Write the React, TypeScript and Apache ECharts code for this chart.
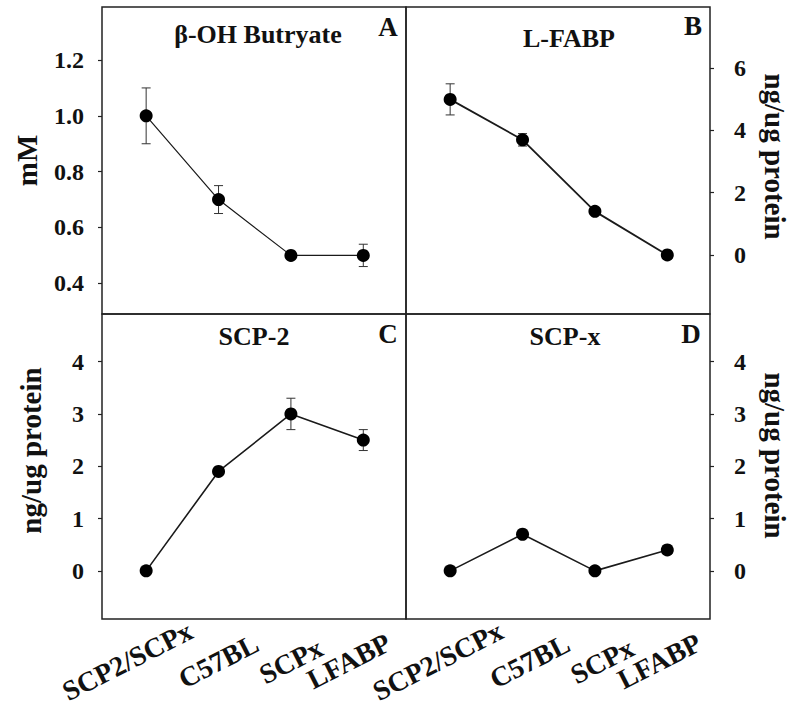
import React, { useEffect, useRef } from "react";
import * as echarts from "echarts";

// ---- data ----
const categories = ["SCP2/SCPx", "C57BL", "SCPx", "LFABP"];

const butyrate = [1.0, 0.7, 0.5, 0.5];
const butyrateErr = [0.1, 0.05, 0, 0.04];

const lfabp = [5.0, 3.7, 1.4, 0.0];
const lfabpErr = [0.5, 0.2, 0, 0];

const scp2 = [0, 1.9, 3.0, 2.5];
const scp2Err = [0, 0, 0.3, 0.2];

const scpx = [0, 0.7, 0, 0.4];
const scpxErr = [0, 0, 0, 0];

const ticksA = [0.4, 0.6, 0.8, 1.0, 1.2];
const ticksB = [0, 2, 4, 6];
const ticksCD = [0, 1, 2, 3, 4];

const titles = ["β-OH Butryate", "L-FABP", "SCP-2", "SCP-x"];
const letters = ["A", "B", "C", "D"];
const yNames = ["mM", "ng/ug protein", "ng/ug protein", "ng/ug protein"];

// ---- style / layout ----
const FONT = '"Liberation Serif", "Times New Roman", serif';
const INK = "#111";
const FRAME = "#222";

const grids = [
  { left: 102, top: 7, width: 304, height: 307 },
  { left: 406, top: 7, width: 304, height: 307 },
  { left: 102, top: 314, width: 304, height: 305 },
  { left: 406, top: 314, width: 304, height: 305 },
];
const yRanges = [
  [0.29, 1.39],
  [-1.9, 7.97],
  [-0.92, 4.91],
  [-0.92, 4.91],
];
const X_MIN = -0.61;
const X_MAX = 3.59;
// horizontal nudges of the rotated category labels (in axis units), bottom panels
const labelShift: Record<number, number[]> = {
  2: [-0.26, 0, 0, -0.2],
  3: [-0.17, 0.1, 0.1, -0.11],
};
const lineWidths = [1.2, 1.8, 1.6, 1.6];
const titlePos = [
  [258, 34],
  [569, 38],
  [254, 336],
  [565, 336],
];
const letterPos = [
  [388, 27],
  [693, 26],
  [388, 334],
  [691, 334],
];

export default function App() {
  const ref = useRef<HTMLDivElement>(null);

  useEffect(() => {
    if (!ref.current) return;
    const chart = echarts.init(ref.current, null, { renderer: "svg" });

    const values = [butyrate, lfabp, scp2, scpx];
    const errs = [butyrateErr, lfabpErr, scp2Err, scpxErr];
    const yTicks = [ticksA, ticksB, ticksCD, ticksCD];

    const baseX = (i: number) => ({
      type: "value",
      gridIndex: i,
      min: X_MIN,
      max: X_MAX,
      position: "bottom",
      offset: 0,
      splitLine: { show: false },
      axisLine: { show: false, onZero: false },
      axisTick: { show: false },
      axisLabel: { show: false },
    });

    const xAxis: any[] = grids.map((_, i) => baseX(i));
    // label-only axes for the bottom panels (alternating labels so none get hidden)
    [2, 3].forEach((g) => {
      [0, 1].forEach((parity) => {
        const idx = categories.map((_, k) => k).filter((k) => k % 2 === parity);
        xAxis.push({
          ...baseX(g),
          axisLabel: {
            show: true,
            customValues: idx.map((k) => k + labelShift[g][k]),
            formatter: (v: number) => categories[Math.round(v)] ?? "",
            rotate: 27,
            align: "center",
            verticalAlign: "middle",
            margin: 42,
            fontSize: 28,
            fontWeight: "bold",
            fontFamily: FONT,
            color: INK,
            showMinLabel: true,
            showMaxLabel: true,
            hideOverlap: false,
          },
        });
      });
    });

    const yAxis = grids.map((_, i) => {
      const right = i === 1 || i === 3;
      const namePad =
        i === 2 ? [0, 0, 0, 32] : i === 3 ? [0, 22, 0, 0] : i === 1 ? [0, 8, 0, 0] : [0, 0, 0, 0];
      return {
        type: "value",
        gridIndex: i,
        position: right ? "right" : "left",
        min: yRanges[i][0],
        max: yRanges[i][1],
        splitLine: { show: false },
        axisLine: { show: false, onZero: false },
        axisTick: {
          show: true,
          inside: false,
          length: 4,
          customValues: yTicks[i],
          lineStyle: { color: FRAME, width: 1.2 },
        },
        axisLabel: {
          show: true,
          customValues: yTicks[i],
          formatter: (v: number) => (i === 0 ? v.toFixed(1) : String(Math.round(v))),
          margin: right ? 24 : 18,
          fontSize: 24,
          fontWeight: "bold",
          fontFamily: FONT,
          color: INK,
          showMinLabel: true,
          showMaxLabel: true,
        },
        name: yNames[i],
        nameLocation: "middle",
        nameRotate: right ? -90 : 90,
        nameGap: right ? 50 : i === 0 ? 61 : 57,
        nameMoveOverlap: false,
        nameTextStyle: {
          fontSize: 29,
          fontWeight: "bold",
          fontFamily: FONT,
          color: INK,
          padding: namePad,
        },
      };
    });

    const series: any[] = [];
    values.forEach((vals, i) => {
      series.push({
        type: "custom",
        xAxisIndex: i,
        yAxisIndex: i,
        z: 1,
        data: vals.map((v, k) => [k, v, errs[i][k]]),
        renderItem: (_p: any, api: any) => {
          const x = api.value(0);
          const v = api.value(1);
          const e = api.value(2);
          if (!e) return { type: "group", children: [] };
          const top = api.coord([x, v + e]);
          const bot = api.coord([x, v - e]);
          const hw = 4.5;
          const style = { stroke: "#333", lineWidth: 1 };
          return {
            type: "group",
            children: [
              { type: "line", shape: { x1: top[0], y1: top[1], x2: bot[0], y2: bot[1] }, style },
              { type: "line", shape: { x1: top[0] - hw, y1: top[1], x2: top[0] + hw, y2: top[1] }, style },
              { type: "line", shape: { x1: bot[0] - hw, y1: bot[1], x2: bot[0] + hw, y2: bot[1] }, style },
            ],
          };
        },
      });
      series.push({
        type: "line",
        xAxisIndex: i,
        yAxisIndex: i,
        z: 3,
        data: vals.map((v, k) => [k, v]),
        symbol: "circle",
        symbolSize: 13,
        itemStyle: { color: "#000" },
        lineStyle: { color: "#1a1a1a", width: lineWidths[i] },
        emphasis: { disabled: true },
      });
    });

    const graphic: any[] = [];
    titles.forEach((t, i) => {
      graphic.push({
        type: "text",
        x: titlePos[i][0],
        y: titlePos[i][1],
        style: {
          text: t,
          font: `bold 26px ${FONT}`,
          fill: INK,
          textAlign: "center",
          textVerticalAlign: "middle",
        },
      });
      graphic.push({
        type: "text",
        x: letterPos[i][0],
        y: letterPos[i][1],
        style: {
          text: letters[i],
          font: `bold 27px ${FONT}`,
          fill: INK,
          textAlign: "center",
          textVerticalAlign: "middle",
        },
      });
    });

    chart.setOption({
      animation: false,
      backgroundColor: "#fff",
      grid: grids.map((g) => ({
        ...g,
        show: true,
        borderColor: FRAME,
        borderWidth: 1.5,
        backgroundColor: "transparent",
        containLabel: false,
        outerBoundsMode: "none",
      })),
      xAxis,
      yAxis,
      series,
      graphic,
    });

    return () => chart.dispose();
  }, []);

  return (
    <div
      ref={ref}
      style={{ position: "fixed", left: 0, top: 0, width: 800, height: 722 }}
    />
  );
}
